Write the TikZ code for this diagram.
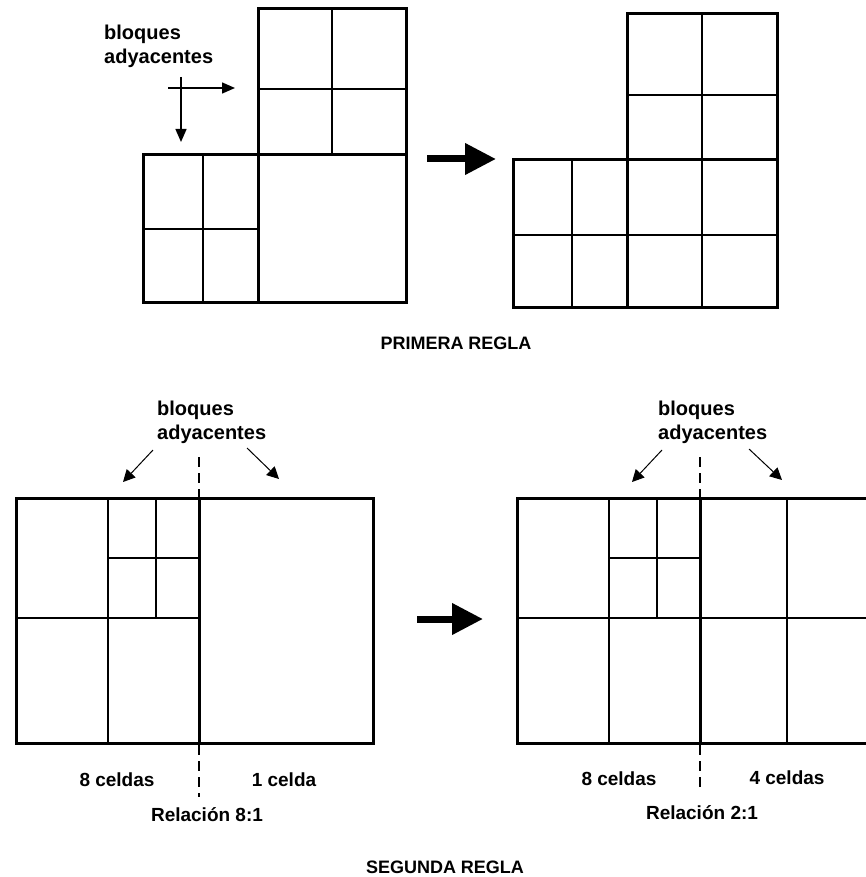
\documentclass[tikz,border=0pt]{standalone}
\usepackage{fontspec}
\setmainfont{Liberation Sans}
\usepackage{tikz}
\usetikzlibrary{positioning,arrows.meta}

\begin{document}
\begin{tikzpicture}[x=1pt,y=-1pt,
    grueso/.style={line width=3pt},
    fino/.style={line width=1.4pt},
    rotulo/.style={font=\fontsize{19}{24}\selectfont\bfseries, inner sep=0pt},
    bloque/.style={font=\fontsize{20}{24}\selectfont\bfseries, inner sep=0pt, align=left, anchor=west},
    titulo/.style={font=\fontsize{18}{22}\selectfont\bfseries, inner sep=0pt},
    flechota/.style={line width=7pt, -{Triangle[length=31pt,width=30pt]}},
    flechita/.style={line width=1.4pt, -{Triangle[length=13pt,width=11pt]}},
    diagonal/.style={line width=1pt, -{Triangle[length=12pt,width=12pt]}},
    corte/.style={line width=1.4pt, dash pattern=on 10pt off 6pt}]

\useasboundingbox (0,0) rectangle (866,877);

% primera regla
\node[bloque] (bloq0) at (104,46) {bloques\\adyacentes};
\coordinate (h0) at (168,88);  \coordinate (h1) at (235,88);
\coordinate (v0) at (181,77);  \coordinate (v1) at (181,142);
\draw[flechita] (h0) -- (h1);
\draw[flechita] (v0) -- (v1);

\draw[fino] (332,9) -- (332,155);
\draw[fino] (258,89) -- (406,89);
\draw[fino] (203,155) -- (203,302);
\draw[fino] (143,229) -- (258,229);
\draw[grueso] (258,9) rectangle (406,155);
\draw[grueso] (143,155) rectangle (258,302);
\draw[grueso] (258,155) rectangle (406,302);

\coordinate (p0) at (427,159); \coordinate (p1) at (496,159);
\draw[flechota] (p0) -- (p1);

\draw[fino] (702,14) -- (702,307);
\draw[fino] (572,160) -- (572,307);
\draw[fino] (627,95) -- (777,95);
\draw[fino] (513,235) -- (777,235);
\draw[grueso] (627,14) rectangle (777,160);
\draw[grueso] (513,160) rectangle (777,307);
\draw[grueso] (627,160) -- (627,307);

\node[titulo] (regla1) at (456,343) {PRIMERA REGLA};

% segunda regla
\foreach [count=\i] \xa in {0,501}
{
    \draw[corte] (199+\xa,457) -- (199+\xa,797-10*\i+10);
    \draw[fino] (108+\xa,498) -- (108+\xa,743);
    \draw[fino] (16+\xa,618) -- (199+\xa,618);
    \draw[fino] (156+\xa,498) -- (156+\xa,618);
    \draw[fino] (108+\xa,558) -- (199+\xa,558);
    \draw[grueso] (199+\xa,498) -- (199+\xa,743);
}

\draw[grueso] (16,498) rectangle (373,743);

\begin{scope}
\clip (0,0) rectangle (866,877);
\draw[fino] (517,618) -- (874,618);
\draw[fino] (787,498) -- (787,743);
\draw[grueso] (517,498) rectangle (874,743);
\end{scope}

\coordinate (q0) at (417,619); \coordinate (q1) at (483,619);
\draw[flechota] (q0) -- (q1);

\node[bloque] (bloq1) at (157,422) {bloques\\adyacentes};
\node[bloque] (bloq2) at (658,422) {bloques\\adyacentes};

\coordinate (a1) at (153,450); \coordinate (b1) at (123,482);
\coordinate (c1) at (247,448); \coordinate (d1) at (279,479);
\coordinate (a2) at (662,450); \coordinate (b2) at (632,482);
\coordinate (c2) at (749,449); \coordinate (d2) at (782,480);
\draw[diagonal] (a1) -- (b1);
\draw[diagonal] (c1) -- (d1);
\draw[diagonal] (a2) -- (b2);
\draw[diagonal] (c2) -- (d2);

\node[rotulo] (izq1) at (117,780) {8 celdas};
\node[rotulo] (der1) at (284,780) {1 celda};
\node[rotulo] (rel1) at (207,815) {Relación 8:1};
\node[rotulo] (izq2) at (619,779) {8 celdas};
\node[rotulo] (der2) at (787,778) {4 celdas};
\node[rotulo] (rel2) at (702,813) {Relación 2:1};

\node[titulo] (regla2) at (445,867) {SEGUNDA REGLA};

\end{tikzpicture}
\end{document}
